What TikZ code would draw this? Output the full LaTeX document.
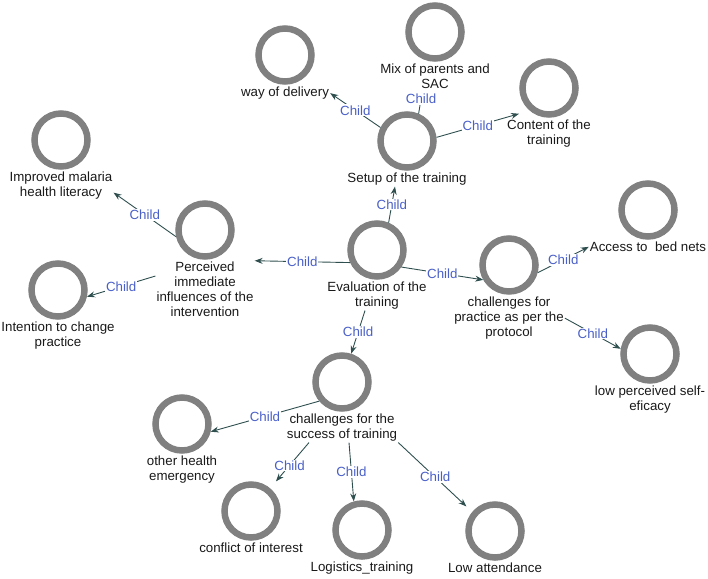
\documentclass[tikz,border=0pt]{standalone}
\usepackage{fontspec}
\setmainfont{Liberation Sans}
\usetikzlibrary{positioning,arrows.meta}
\definecolor{ringgray}{HTML}{808080}
\definecolor{linkcol}{HTML}{2F4F4F}
\definecolor{childblue}{HTML}{4A60C8}
\begin{document}
\begin{tikzpicture}[x=1pt,y=-1pt,
 concept/.style={circle,draw=ringgray,line width=6.5pt,minimum size=53pt,inner sep=0pt},
 lbl/.style={align=center,inner sep=1pt,font=\fontsize{13.3}{15}\selectfont,text=black!90},
 link/.style={draw=linkcol,line width=0.9pt,-{Stealth[length=8pt,width=6pt]}},
 childlbl/.style={text=childblue,fill=white,inner sep=1pt,font=\fontsize{13.3}{15}\selectfont}]
 \useasboundingbox (0,0) rectangle (708,578);
 %
 \node[concept] (eval) at (377,250) {};
 \node[lbl,below=1pt of eval] (evallbl) {Evaluation of the\\training};
 \node[concept] (setup) at (407,141) {};
 \node[lbl,below=1pt of setup] (setuplbl) {Setup of the training};
 \node[concept] (way) at (285,55) {};
 \node[lbl,below=1pt of way] (waylbl) {way of delivery};
 \node[concept] (mix) at (435,32) {};
 \node[lbl,below=1pt of mix] (mixlbl) {Mix of parents and\\SAC};
 \node[concept] (content) at (549,88) {};
 \node[lbl,below=1pt of content] (contentlbl) {Content of the\\training};
 %
 \node[concept] (perc) at (205,230) {};
 \node[lbl,below=1pt of perc] (perclbl) {Perceived\\immediate\\influences of the\\intervention};
 \node[concept] (impr) at (61,140) {};
 \node[lbl,below=1pt of impr] (imprlbl) {Improved malaria\\health literacy};
 \node[concept] (intent) at (58,290) {};
 \node[lbl,below=1pt of intent] (intentlbl) {Intention to change\\practice};
 %
 \node[concept] (pract) at (509,265) {};
 \node[lbl,below=1pt of pract] (practlbl) {challenges for\\practice as per the\\protocol};
 \node[concept] (access) at (648,210) {};
 \node[lbl,below=1pt of access] (accesslbl) {Access to~~bed nets};
 \node[concept] (selfeff) at (650,354) {};
 \node[lbl,below=1pt of selfeff] (selfefflbl) {low perceived self-\\eficacy};
 %
 \node[concept] (succ) at (342,382) {};
 \node[lbl,below=1pt of succ] (succlbl) {challenges for the\\success of training};
 \node[concept] (other) at (182,424) {};
 \node[lbl,below=1pt of other] (otherlbl) {other health\\emergency};
 \node[concept] (conflict) at (251,511) {};
 \node[lbl,below=1pt of conflict] (conflictlbl) {conflict of interest};
 \node[concept] (logist) at (362,530) {};
 \node[lbl,below=1pt of logist] (logistlbl) {Logistics\_training};
 \node[concept] (lowatt) at (495,531) {};
 \node[lbl,below=1pt of lowatt] (lowattlbl) {Low attendance};
 %
 \draw[link] (eval.67) -- node[childlbl]{Child} ([xshift=-12pt]setuplbl.south);
 \draw[link] (setup.153) -- node[childlbl]{Child} (waylbl.east);
 \draw[link] (setup.67) -- node[childlbl,pos=.72]{Child} ([xshift=-13pt,yshift=-3pt]mixlbl.south);
 \draw[link] (setup.7) -- node[childlbl]{Child} ([xshift=-30pt,yshift=5pt]contentlbl.north);
 %
 \draw[link] (eval.205) -- node[childlbl]{Child} (perclbl.north east);
 \draw[link] (perc.193) -- node[childlbl]{Child} ([yshift=-7pt]imprlbl.east);
 \draw[link] (perclbl.165) -- node[childlbl]{Child} (intent.-13);
 %
 \draw[link] (eval.-35) -- node[childlbl]{Child} (pract.210);
 \draw[link] (pract.-15) -- node[childlbl]{Child} (accesslbl.west);
 \draw[link] (practlbl.east) -- node[childlbl]{Child} (selfeff.170);
 %
 \draw[link] ([xshift=-12pt]evallbl.south) -- node[childlbl]{Child} (succ.72);
 \draw[link] (succ.220) -- node[childlbl]{Child} (other.-15);
 \draw[link,shorten >=9pt] ([xshift=-33pt]succlbl.south) -- node[childlbl]{Child} (conflict.50);
 \draw[link] ([xshift=7pt]succlbl.south) -- node[childlbl]{Child} (logist.106);
 \draw[link,shorten >=8pt] (succlbl.south east) -- node[childlbl]{Child} (lowatt.140);
\end{tikzpicture}
\end{document}
